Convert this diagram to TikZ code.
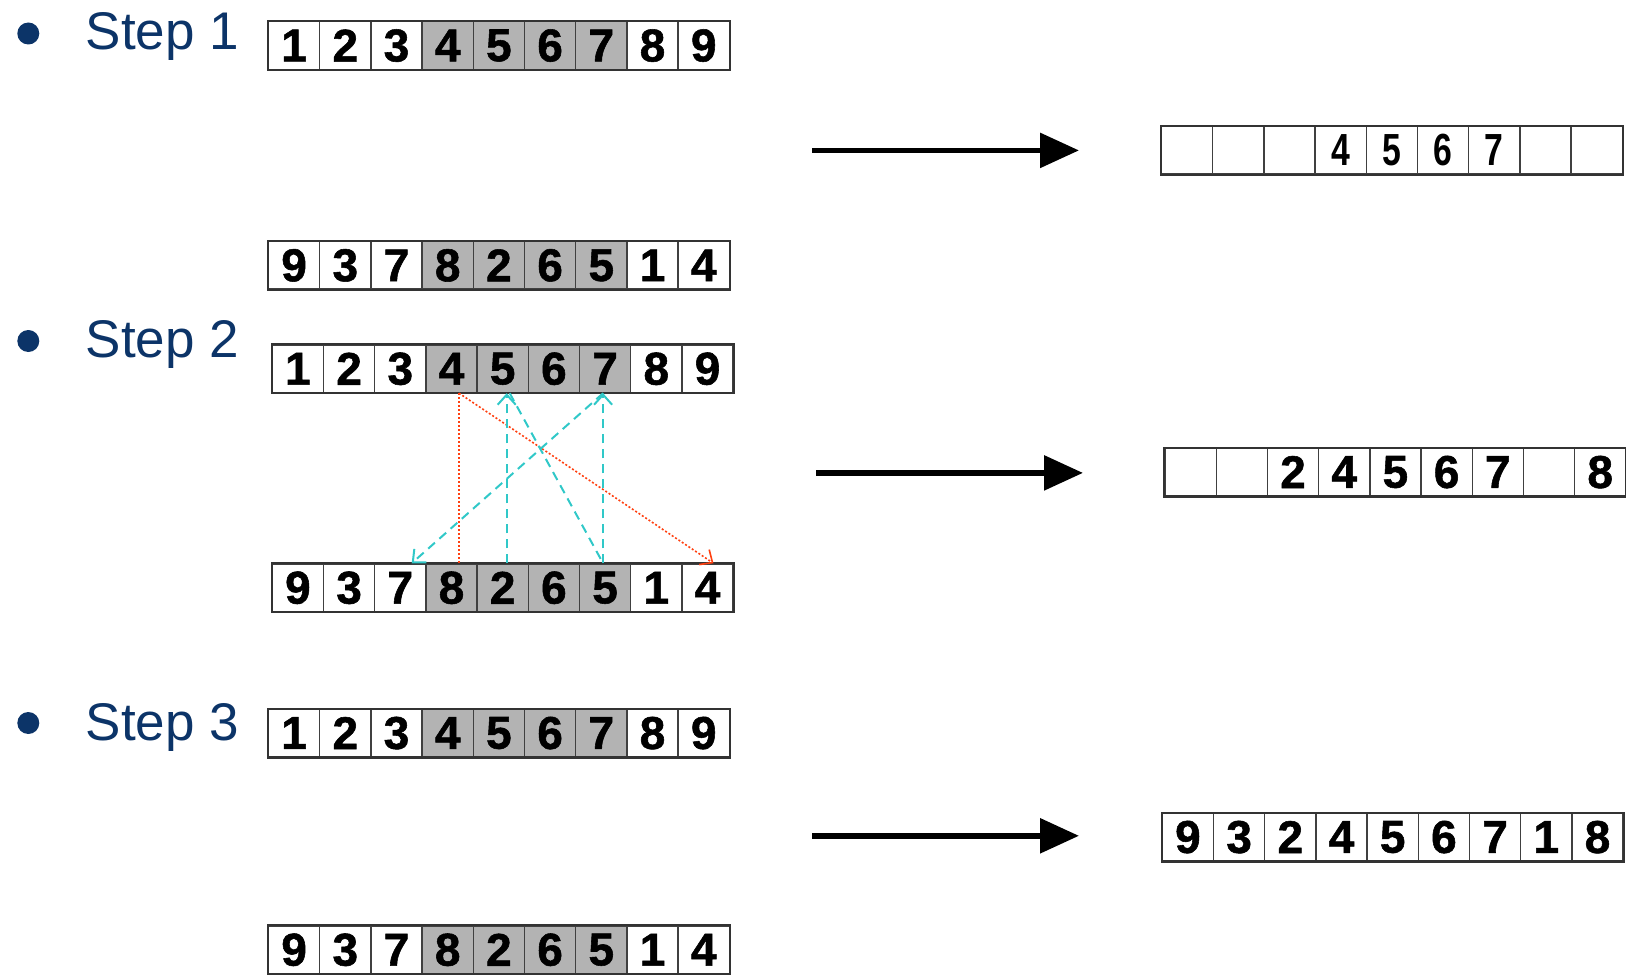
\documentclass[tikz,border=0pt]{standalone}
\usepackage{fontspec}
\setmainfont{Liberation Sans}
\newfontfamily\digitfont[FakeBold=1.2]{Liberation Sans Bold}
\newfontfamily\narrowfont[FakeStretch=0.75]{Liberation Sans Bold}
\usetikzlibrary{arrows.meta}
\definecolor{navy}{RGB}{12,52,104}
\definecolor{cellgray}{RGB}{179,179,179}
\definecolor{redline}{RGB}{255,64,16}
\definecolor{cyanline}{RGB}{48,200,200}
\newcommand\cellarr[5]{%
  \foreach \dg/\sh [count=\i] in {#5} {
    \node[#4, fill=\sh] (#1c\i) at ({#2+(\i-0.5)*51.2},{#3+23.75}) {\dg};
  }
  \draw[outer] (#1c1.north west) rectangle (#1c9.south east);
}
\begin{document}
\begin{tikzpicture}[x=0.5pt,y=-0.5pt,
  cell/.style={draw=black!75, line width=0.7pt, minimum width=25.6pt, minimum height=23.75pt, inner sep=0pt, font=\fontsize{23pt}{27pt}\selectfont\digitfont},
  ncell/.style={cell, font=\fontsize{22.5pt}{26pt}\selectfont\narrowfont},
  outer/.style={draw=black!80, line width=1.1pt},
  bigarrow/.style={line width=2.9pt, -{Triangle[length=19.5pt,width=17pt]}},
  steplabel/.style={anchor=base west, text=navy, font=\fontsize{26.5pt}{32pt}\selectfont, inner sep=0pt},
  bullet/.style={circle, fill=navy, minimum size=11pt, inner sep=0pt},
  redarr/.style={draw=redline, line width=0.8pt, dash pattern=on 1pt off 1pt},
  cyanarr/.style={draw=cyanline, line width=1pt, dash pattern=on 4.5pt off 3pt},
  tip/.style={-{Straight Barb[length=5pt,width=9pt]}}
]
\useasboundingbox (0,0) rectangle (1626,974);

% bullets and labels
\node[bullet] (b1) at (28.3,33.5) {};
\node[steplabel] (s1) at (85.5,50) {Step 1};
\node[bullet] (b2) at (28.3,341) {};
\node[steplabel] (s2) at (85.5,357.5) {Step 2};
\node[bullet] (b3) at (28.3,723) {};
\node[steplabel] (s3) at (85.5,740) {Step 3};

% Step 1
\cellarr{A1}{268.5}{21.8}{cell}{1/white,2/white,3/white,4/cellgray,5/cellgray,6/cellgray,7/cellgray,8/white,9/white}
\cellarr{B1}{268.5}{241.6}{cell}{9/white,3/white,7/white,8/cellgray,2/cellgray,6/cellgray,5/cellgray,1/white,4/white}
\cellarr{R1}{1161.4}{126.5}{ncell}{/white,/white,/white,4/white,5/white,6/white,7/white,/white,/white}

% Step 2
\cellarr{A2}{272.3}{345}{cell}{1/white,2/white,3/white,4/cellgray,5/cellgray,6/cellgray,7/cellgray,8/white,9/white}
\cellarr{B2}{272.3}{564}{cell}{9/white,3/white,7/white,8/cellgray,2/cellgray,6/cellgray,5/cellgray,1/white,4/white}
\cellarr{R2}{1165}{448.3}{cell}{/white,/white,2/white,4/white,5/white,6/white,7/white,/white,8/white}

% Step 3
\cellarr{A3}{268.5}{709.3}{cell}{1/white,2/white,3/white,4/cellgray,5/cellgray,6/cellgray,7/cellgray,8/white,9/white}
\cellarr{B3}{268.5}{926}{cell}{9/white,3/white,7/white,8/cellgray,2/cellgray,6/cellgray,5/cellgray,1/white,4/white}
\cellarr{R3}{1162.3}{813.3}{cell}{9/white,3/white,2/white,4/white,5/white,6/white,7/white,1/white,8/white}

% big arrows
\coordinate (a1s) at (812,150.4);
\coordinate (a1e) at (1079,150.4);
\coordinate (a2s) at (816,472.9);
\coordinate (a2e) at (1083,472.9);
\coordinate (a3s) at (812,835.8);
\coordinate (a3e) at (1079,835.8);
\draw[bigarrow] (a1s) -- (a1e);
\draw[bigarrow] (a2s) -- (a2e);
\draw[bigarrow] (a3s) -- (a3e);

% Step 2 mapping connectors
\draw[redarr] ([xshift=3.75pt]A2c4.south) -- ([xshift=3.75pt]B2c4.north);
\draw[redarr, tip] ([xshift=3.75pt]A2c4.south) -- ([xshift=3pt]B2c9.north);
\draw[cyanarr, tip] ([xshift=2pt]B2c5.north) -- ([xshift=2pt]A2c5.south);
\draw[cyanarr] ([xshift=3.5pt]A2c5.south) -- ([xshift=-1pt]B2c7.north);
\draw[cyanarr, tip] ([xshift=-1pt]B2c7.north) -- ([xshift=-1pt]A2c7.south);
\draw[cyanarr, tip] ([xshift=-1pt]A2c7.south) -- ([xshift=5.7pt]B2c3.north);
\end{tikzpicture}
\end{document}
